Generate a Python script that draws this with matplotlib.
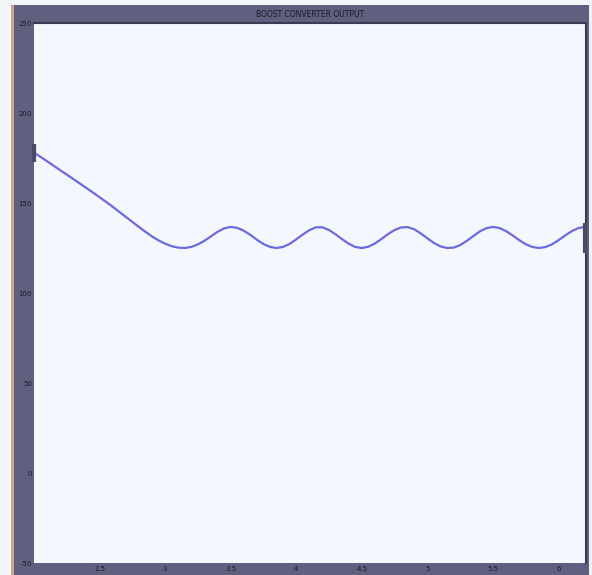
import matplotlib
matplotlib.use("Agg")
import matplotlib.pyplot as plt
from matplotlib.patches import Rectangle

# Boost converter output voltage versus time
t = [2.00, 2.05, 2.10, 2.15, 2.20, 2.25, 2.30, 2.35, 2.40, 2.45,
     2.50, 2.55, 2.60, 2.65, 2.70, 2.75, 2.80, 2.85, 2.90, 2.95,
     3.00, 3.05, 3.10, 3.15, 3.20, 3.25, 3.30, 3.35, 3.40, 3.45,
     3.50, 3.55, 3.60, 3.65, 3.70, 3.75, 3.80, 3.85, 3.90, 3.95,
     4.00, 4.05, 4.10, 4.15, 4.20, 4.25, 4.30, 4.35, 4.40, 4.45,
     4.50, 4.55, 4.60, 4.65, 4.70, 4.75, 4.80, 4.85, 4.90, 4.95,
     5.00, 5.05, 5.10, 5.15, 5.20, 5.25, 5.30, 5.35, 5.40, 5.45,
     5.50, 5.55, 5.60, 5.65, 5.70, 5.75, 5.80, 5.85, 5.90, 5.95,
     6.00, 6.05, 6.10, 6.15, 6.20]
v_out = [178.0, 175.6, 173.2, 170.7, 168.2, 165.8, 163.3, 160.8, 158.3, 155.8,
         153.2, 150.6, 147.9, 145.1, 142.3, 139.5, 136.7, 134.0, 131.4, 129.2,
         127.4, 126.0, 125.2, 125.0, 125.6, 127.0, 129.0, 131.5, 134.0, 135.9,
         136.7, 136.2, 134.6, 132.3, 129.6, 127.2, 125.6, 125.0, 125.6, 127.3,
         129.8, 132.5, 134.9, 136.5, 136.5, 135.0, 132.6, 129.9, 127.4, 125.6,
         125.0, 125.7, 127.5, 130.0, 132.7, 135.0, 136.4, 136.6, 135.4, 133.1,
         130.4, 127.8, 125.9, 125.0, 125.2, 126.6, 128.9, 131.6, 134.2, 136.0,
         136.7, 136.1, 134.4, 132.0, 129.4, 127.1, 125.6, 125.0, 125.5, 127.0,
         129.3, 131.9, 134.3, 136.0, 136.7]

x_ticks = [2.5, 3, 3.5, 4, 4.5, 5, 5.5, 6]
x_tick_labels = ["2.5", "3", "3.5", "4", "4.5", "5", "5.5", "6"]
y_ticks = [-50, 0, 50, 100, 150, 200, 250]
y_tick_labels = ["-50", "0", "50", "100", "150", "200", "250"]

frame_color = "#5f5f80"
edge_dark = "#3a3a52"
text_color = "#1a1a24"

fig = plt.figure(figsize=(5.92, 5.75), dpi=100, facecolor=frame_color)

# outer border strips of the window
fig.patches.append(Rectangle((0, 0), 11 / 592, 1, transform=fig.transFigure,
                             facecolor="#f3f6f9", edgecolor="none", zorder=0))
fig.patches.append(Rectangle((0, 1 - 5 / 575), 1, 5 / 575, transform=fig.transFigure,
                             facecolor="#f3f6f9", edgecolor="none", zorder=0))
fig.patches.append(Rectangle((11 / 592, 0), 2.5 / 592, 1 - 5 / 575, transform=fig.transFigure,
                             facecolor="#c9a58a", edgecolor="none", zorder=0))
fig.patches.append(Rectangle((1 - 3 / 592, 0), 3 / 592, 1, transform=fig.transFigure,
                             facecolor="#eef1f6", edgecolor="none", zorder=0))

ax = fig.add_axes([34 / 592, 12 / 575, 552 / 592, 540 / 575])
ax.set_facecolor("#f4f7fd")

ax.plot(t, v_out, color="#6b6be0", lw=1.6, solid_capstyle="round", zorder=3)

# short dark markers at both ends of the trace
ax.vlines(t[0], 173, 183, color="#4a4a66", lw=3, zorder=4, clip_on=False)
ax.vlines(t[-1], 122, 139, color="#4a4a66", lw=3, zorder=4, clip_on=False)

ax.set_xlim(2.0, 6.21)
ax.set_ylim(-50, 250)
ax.set_xticks(x_ticks)
ax.set_xticklabels(x_tick_labels)
ax.set_yticks(y_ticks)
ax.set_yticklabels(y_tick_labels)
ax.tick_params(axis="both", length=0, labelsize=5, colors=text_color, pad=1.5)
ax.tick_params(axis="x", pad=2)

for side in ["left", "bottom"]:
    ax.spines[side].set_visible(False)
for side in ["top", "right"]:
    ax.spines[side].set_color(edge_dark)
    ax.spines[side].set_linewidth(1.5)

ax.set_title("BOOST CONVERTER OUTPUT", fontsize=5.5, color=text_color,
             family=["Liberation Sans Narrow", "DejaVu Sans"], pad=4)

fig.savefig("out.png", dpi=100, facecolor=fig.get_facecolor())
